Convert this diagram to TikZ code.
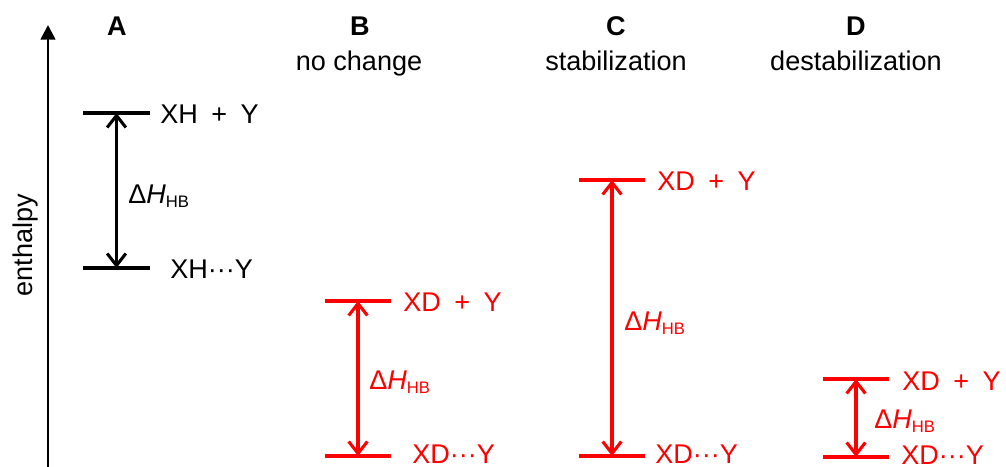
\documentclass[tikz,border=0pt]{standalone}
\usepackage{fontspec}
\setmainfont{Liberation Sans}
\usetikzlibrary{arrows.meta}
\newcommand{\dHHB}{Δ\textit{H}\raisebox{-3pt}{\fontsize{12.5}{12.5}\selectfont HB}}
\newcommand{\gp}{\hspace{0.5em}}
\begin{document}
\begin{tikzpicture}[x=0.75pt,y=-0.75pt,
  level/.style={line width=2.6pt},
  gap/.style={line width=2.3pt,{Straight Barb[length=9pt,width=14pt]}-{Straight Barb[length=9pt,width=14pt]}},
  lbl/.style={anchor=west,inner sep=0pt,font=\fontsize{20.3}{24}\selectfont},
  dlbl/.style={anchor=base west,inner sep=0pt,font=\fontsize{20.3}{24}\selectfont},
  head/.style={anchor=base,inner sep=0pt,font=\fontsize{20.3}{24}\selectfont\bfseries},
  sub/.style={anchor=base,inner sep=0pt,font=\fontsize{20.3}{24}\selectfont},
  ax/.style={line width=2pt,-{Triangle[length=11pt,width=11pt]}}
]
\useasboundingbox (0,0) rectangle (1006,467);

% axis
\coordinate (axb) at (48,467);
\coordinate (axt) at (48,25);
\draw[ax] (axb) -- (axt);
\node[sub,rotate=90] (enth) at (32,245) {enthalpy};

% headers
\node[head] (hA) at (117,36) {A};
\node[head] (hB) at (360,36) {B};
\node[sub]  (sB) at (359,70) {no change};
\node[head] (hC) at (616,36) {C};
\node[sub]  (sC) at (616,70) {stabilization};
\node[head] (hD) at (856,36) {D};
\node[sub]  (sD) at (856,70) {destabilization};

% ---- A
\coordinate (A1l) at (83,113);  \coordinate (A1r) at (150,113); \coordinate (A1m) at (116.5,113);
\coordinate (A2l) at (83,268);  \coordinate (A2r) at (150,268); \coordinate (A2m) at (116.5,268);
\draw[level] (A1l) -- (A1r);
\draw[level] (A2l) -- (A2r);
\draw[gap] (A1m) -- (A2m);
\node[lbl] (tA1) at (160,114.5) {XH\gp+\gp Y};
\node[lbl] (tA2) at (170,269.5) {XH···Y};
\node[dlbl] (dA) at (128,203) {\dHHB};

% ---- B
\begin{scope}[red]
\coordinate (B1l) at (325,301);  \coordinate (B1r) at (391,301); \coordinate (B1m) at (358,301);
\coordinate (B2l) at (325,456);  \coordinate (B2r) at (391,456); \coordinate (B2m) at (358,456);
\draw[level] (B1l) -- (B1r);
\draw[level] (B2l) -- (B2r);
\draw[gap] (B1m) -- (B2m);
\node[lbl,text=red] (tB1) at (403,302) {XD\gp+\gp Y};
\node[lbl,text=red] (tB2) at (412,454.5) {XD···Y};
\node[dlbl,text=red] (dB) at (369,389) {\dHHB};

% ---- C
\coordinate (C1l) at (579,180);  \coordinate (C1r) at (645,180); \coordinate (C1m) at (612,180);
\coordinate (C2l) at (579,456);  \coordinate (C2r) at (645,456); \coordinate (C2m) at (612,456);
\draw[level] (C1l) -- (C1r);
\draw[level] (C2l) -- (C2r);
\draw[gap] (C1m) -- (C2m);
\node[lbl,text=red] (tC1) at (657,181.5) {XD\gp+\gp Y};
\node[lbl,text=red] (tC2) at (655,454.5) {XD···Y};
\node[dlbl,text=red] (dC) at (624,330) {\dHHB};

% ---- D
\coordinate (D1l) at (823,379);  \coordinate (D1r) at (889,379); \coordinate (D1m) at (856,379);
\coordinate (D2l) at (823,457);  \coordinate (D2r) at (889,457); \coordinate (D2m) at (856,457);
\draw[level] (D1l) -- (D1r);
\draw[level] (D2l) -- (D2r);
\draw[gap] (D1m) -- (D2m);
\node[lbl,text=red] (tD1) at (902,381) {XD\gp+\gp Y};
\node[lbl,text=red] (tD2) at (901,455) {XD···Y};
\node[dlbl,text=red] (dD) at (874,428) {\dHHB};
\end{scope}
\end{tikzpicture}
\end{document}
